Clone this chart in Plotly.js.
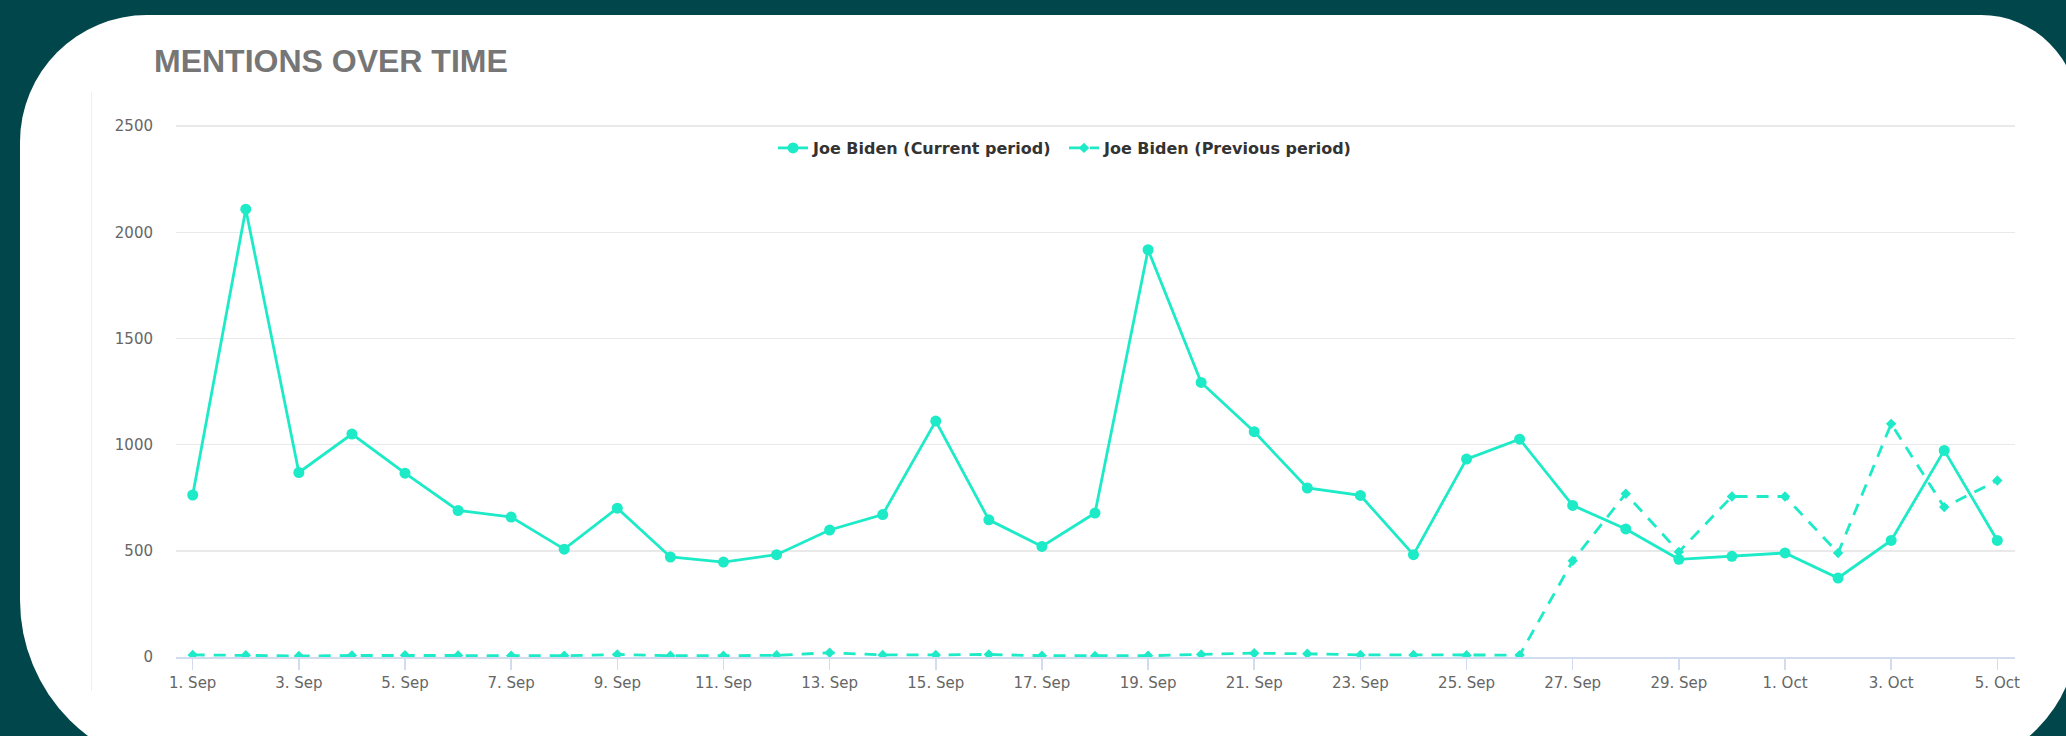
<!DOCTYPE html>
<html>
<head>
<meta charset="utf-8">
<script src="https://cdn.plot.ly/plotly-3.0.1.min.js"></script>
<style>
  html, body { margin: 0; padding: 0; }
  body { width: 2066px; height: 736px; background: #01464a; position: relative; overflow: hidden; }
  #card { position: absolute; left: 20px; top: 15px; width: 2058px; height: 755px; background: #ffffff;
          border-radius: 127px 97px 140px 170px; }
  #frame { position: absolute; left: 91px; top: 92px; width: 1923px; height: 599px;
           border-left: 1px solid #efefef; }
  #chart { position: absolute; left: 0; top: 0; width: 2066px; height: 736px; }
</style>
</head>
<body>
<div id="card"></div>
<div id="frame"></div>
<div id="chart"></div>
<script>
// ---- data ----
const dates = [
  '2020-09-01','2020-09-02','2020-09-03','2020-09-04','2020-09-05','2020-09-06','2020-09-07',
  '2020-09-08','2020-09-09','2020-09-10','2020-09-11','2020-09-12','2020-09-13','2020-09-14',
  '2020-09-15','2020-09-16','2020-09-17','2020-09-18','2020-09-19','2020-09-20','2020-09-21',
  '2020-09-22','2020-09-23','2020-09-24','2020-09-25','2020-09-26','2020-09-27','2020-09-28',
  '2020-09-29','2020-09-30','2020-10-01','2020-10-02','2020-10-03','2020-10-04','2020-10-05'
];
const currentPeriod = [763, 2109, 869, 1050, 866, 690, 659, 508, 701, 471, 447, 482, 598, 671,
  1111, 646, 521, 678, 1918, 1293, 1061, 796, 761, 482, 932, 1026, 714, 603, 460, 474,
  490, 372, 549, 973, 549];
const previousPeriod = [10, 8, 5, 7, 8, 7, 6, 6, 12, 6, 6, 8, 20, 10,
  10, 12, 6, 5, 6, 12, 18, 15, 10, 10, 8, 9, 453, 769, 495, 756,
  756, 490, 1098, 706, 831];
const tickLabels = ['1. Sep','3. Sep','5. Sep','7. Sep','9. Sep','11. Sep','13. Sep','15. Sep',
  '17. Sep','19. Sep','21. Sep','23. Sep','25. Sep','27. Sep','29. Sep','1. Oct','3. Oct','5. Oct'];
const seriesNames = ['Joe Biden (Current period)', 'Joe Biden (Previous period)'];
const yTicks = [0, 500, 1000, 1500, 2000, 2500];
const chartTitle = 'MENTIONS OVER TIME';

// ---- chart ----
const color = '#1deac6';
const tickVals = dates.filter((d, i) => i % 2 === 0);

const traces = [
  {
    x: dates, y: currentPeriod, name: seriesNames[0], type: 'scatter', mode: 'lines+markers',
    line: { color: color, width: 2.8 },
    marker: { color: color, size: 11, symbol: 'circle' }
  },
  {
    x: dates, y: previousPeriod, name: seriesNames[1], type: 'scatter', mode: 'lines+markers',
    line: { color: color, width: 2.8, dash: '12px,9px' },
    marker: { color: color, size: 8, symbol: 'diamond' }
  }
];

const layout = {
  width: 2066, height: 736,
  paper_bgcolor: 'rgba(0,0,0,0)', plot_bgcolor: 'rgba(0,0,0,0)',
  margin: { l: 176, r: 51, t: 123.2, b: 78.7, pad: 0, autoexpand: false },
  title: {
    text: chartTitle,
    font: { family: 'Liberation Sans, Arial, sans-serif', size: 32, color: '#767676', weight: 'bold' },
    xref: 'container', yref: 'container', x: 154 / 2066, xanchor: 'left',
    y: 1 - 61 / 736, yanchor: 'middle'
  },
  showlegend: true,
  legend: {
    orientation: 'h', xref: 'container', yref: 'container',
    x: 773 / 2066, xanchor: 'left', y: 1 - 148 / 736, yanchor: 'middle',
    font: { family: 'DejaVu Sans, sans-serif', size: 16, color: '#333333', weight: 'bold' },
    bgcolor: 'rgba(0,0,0,0)', itemwidth: 30, tracegroupgap: 0,
    entrywidth: 246, entrywidthmode: 'pixels'
  },
  xaxis: {
    type: 'date',
    range: ['2020-08-31 16:27', '2020-10-05 08:00'],
    tickvals: tickVals, ticktext: tickLabels,
    showgrid: false, zeroline: false,
    showline: true, linecolor: '#d3dbee', linewidth: 2,
    ticks: 'outside', ticklen: 11, tickwidth: 1.5, tickcolor: '#d3dbee',
    tickfont: { family: 'DejaVu Sans, sans-serif', size: 15, color: '#666666' }
  },
  yaxis: {
    range: [0, 2515], tickvals: yTicks, ticktext: yTicks.map(String),
    showgrid: true, gridcolor: '#e9e9e9', gridwidth: 1.5,
    zeroline: false, showline: false, ticks: '',
    ticklabelstandoff: 22,
    tickfont: { family: 'DejaVu Sans, sans-serif', size: 15, color: '#666666' }
  },
  hovermode: false
};

Plotly.newPlot('chart', traces, layout, { staticPlot: true, displayModeBar: false });
</script>
</body>
</html>
